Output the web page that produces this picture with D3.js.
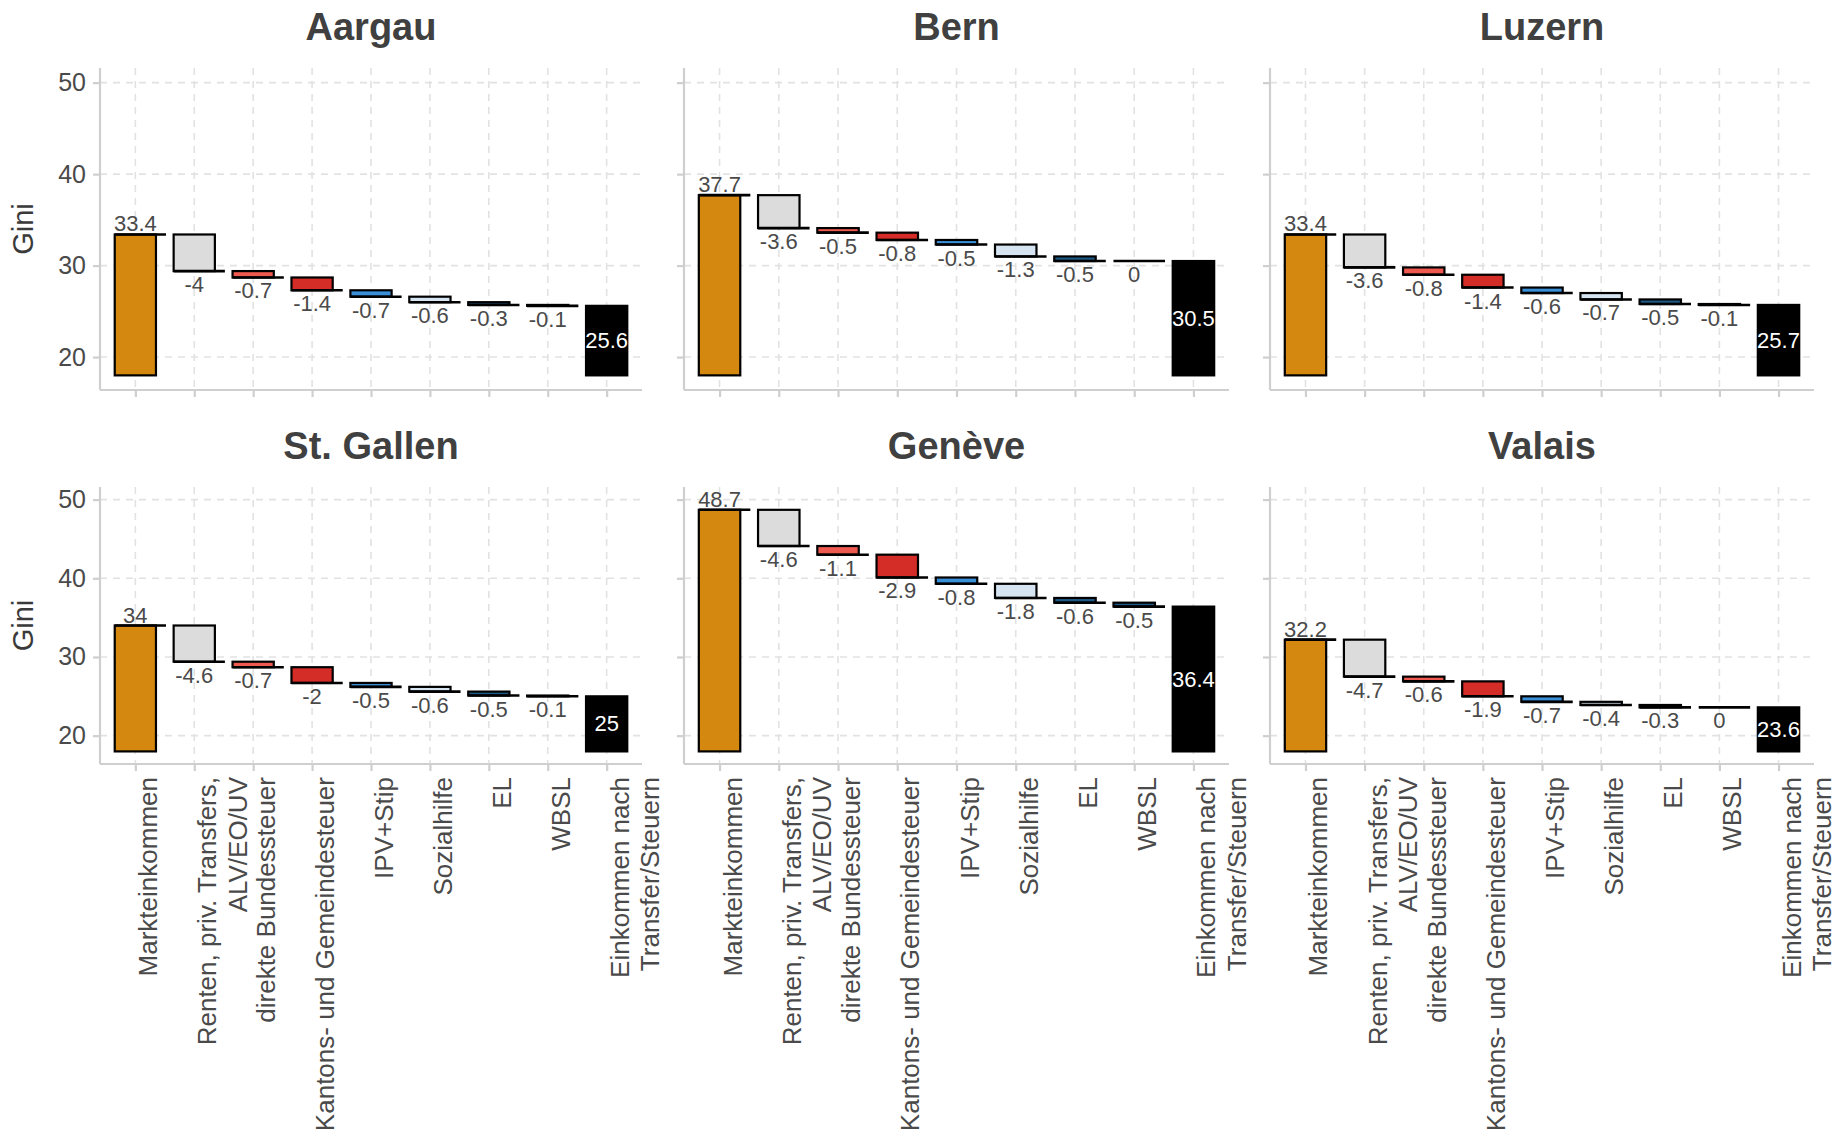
<!DOCTYPE html>
<html>
<head>
<meta charset="utf-8">
<script src="https://cdn.jsdelivr.net/npm/d3@7"></script>
<style>
  html, body { margin: 0; padding: 0; background: #ffffff; }
  svg { display: block; font-family: "Liberation Sans", Arial, sans-serif; }
</style>
</head>
<body>
<svg id="chart" width="1841" height="1136"></svg>
<script>
// ---------------- data ----------------
const categories = [
  "Markteinkommen",
  "Renten, priv. Transfers,\nALV/EO/UV",
  "direkte Bundessteuer",
  "Kantons- und Gemeindesteuer",
  "IPV+Stip",
  "Sozialhilfe",
  "EL",
  "WBSL",
  "Einkommen nach\nTransfer/Steuern"
];
const cantons = ["Aargau", "Bern", "Luzern", "St. Gallen", "Genève", "Valais"];
const valuesAargau    = [33.4, -4.0, -0.7, -1.4, -0.7, -0.6, -0.3, -0.1, 25.6];
const valuesBern      = [37.7, -3.6, -0.5, -0.8, -0.5, -1.3, -0.5,  0.0, 30.5];
const valuesLuzern    = [33.4, -3.6, -0.8, -1.4, -0.6, -0.7, -0.5, -0.1, 25.7];
const valuesStGallen  = [34.0, -4.6, -0.7, -2.0, -0.5, -0.6, -0.5, -0.1, 25.0];
const valuesGeneve    = [48.7, -4.6, -1.1, -2.9, -0.8, -1.8, -0.6, -0.5, 36.4];
const valuesValais    = [32.2, -4.7, -0.6, -1.9, -0.7, -0.4, -0.3,  0.0, 23.6];
const yTicks = [20, 30, 40, 50];
const baseValue = 18;

// ---------------- styles ----------------
const barColors = ["#D4880F", "#DCDCDC", "#EE5A50", "#D42C26", "#3A8FD9",
                   "#D5E4F0", "#1D5A85", "#1D5A85", "#000000"];
const panelCols = [[100, 642], [684, 1229], [1270, 1814]];
const panelRows = [[68, 390], [487, 764]];
const titleBaselines = [40, 459];
const textGrey = "#4A4A4A";

const seriesList = [valuesAargau, valuesBern, valuesLuzern, valuesStGallen, valuesGeneve, valuesValais];

const svg = d3.select("#chart");

cantons.forEach((canton, k) => {
  const col = k % 3, row = Math.floor(k / 3);
  const [x0, x1] = panelCols[col];
  const [y0, y1] = panelRows[row];
  const vals = seriesList[k];

  const x = d3.scalePoint().domain(categories).range([x0, x1]).padding(0.6);
  const step = x.step();
  const y = d3.scaleLinear().domain([16.4, 51.6]).range([y1, y0]);
  const g = svg.append("g");

  // grid lines
  g.append("g").selectAll("line.h").data(yTicks).join("line")
    .attr("x1", x0).attr("x2", x1)
    .attr("y1", d => y(d)).attr("y2", d => y(d))
    .attr("stroke", "#E2E2E2").attr("stroke-width", 1.6)
    .attr("stroke-dasharray", "7,6");
  g.append("g").selectAll("line.v").data(categories).join("line")
    .attr("x1", d => x(d)).attr("x2", d => x(d))
    .attr("y1", y0).attr("y2", y1)
    .attr("stroke", "#E2E2E2").attr("stroke-width", 1.6)
    .attr("stroke-dasharray", "7,6");

  // axes
  const yAxis = d3.axisLeft(y).tickValues(yTicks).tickSize(7).tickSizeOuter(0).tickPadding(7)
    .tickFormat(col === 0 ? d3.format("d") : () => "");
  const ya = g.append("g").attr("transform", `translate(${x0},0)`).call(yAxis);
  const xAxis = d3.axisBottom(x).tickSize(7).tickSizeOuter(0).tickFormat(() => "");
  const xa = g.append("g").attr("transform", `translate(0,${y1})`).call(xAxis);
  [ya, xa].forEach(a => {
    a.select(".domain").attr("stroke", "#CFCFCF").attr("stroke-width", 2.2);
    a.selectAll(".tick line").attr("stroke", "#CFCFCF").attr("stroke-width", 2.2);
    a.selectAll(".tick text").attr("fill", textGrey).attr("font-size", 25)
      .attr("font-family", "'Liberation Sans', Arial, sans-serif");
  });
  ya.select(".domain").attr("d", `M0,${y0}V${y1}`);
  xa.select(".domain").attr("d", `M${x0},0H${x1}`);

  // waterfall data
  const n = vals.length;
  let cum = 0;
  const bars = vals.map((v, i) => {
    let lo, hi, end;
    if (i === 0) { lo = baseValue; hi = v; cum = v; end = v; }
    else if (i === n - 1) { lo = baseValue; hi = v; end = v; }
    else { const prev = cum; cum = cum + v; lo = Math.min(prev, cum); hi = Math.max(prev, cum); end = cum; }
    return { cat: categories[i], v, lo, hi, end, i };
  });

  const bw = step * 0.7;
  g.append("g").selectAll("rect").data(bars).join("rect")
    .attr("x", d => x(d.cat) - bw / 2)
    .attr("width", bw)
    .attr("y", d => y(d.hi))
    .attr("height", d => Math.max(0, y(d.lo) - y(d.hi)))
    .attr("fill", d => barColors[d.i])
    .attr("stroke", "#000").attr("stroke-width", 2.2);

  // connector lines
  g.append("g").selectAll("line").data(bars.slice(0, n - 1)).join("line")
    .attr("x1", d => x(d.cat) - bw / 2)
    .attr("x2", d => x(d.cat) + step * 0.52)
    .attr("y1", d => y(d.end)).attr("y2", d => y(d.end))
    .attr("stroke", "#000").attr("stroke-width", 2.6);

  // value labels
  g.append("g").selectAll("text").data(bars).join("text")
    .attr("x", d => x(d.cat))
    .attr("y", d => d.i === 0 ? y(d.v) - 3 : d.i === n - 1 ? (y(d.lo) + y(d.hi)) / 2 : y(d.end) + 21)
    .attr("dominant-baseline", d => d.i === n - 1 ? "central" : "alphabetic")
    .attr("text-anchor", "middle")
    .attr("font-size", 22)
    .attr("fill", d => d.i === n - 1 ? "#ffffff" : textGrey)
    .text(d => String(d.v));

  // title
  svg.append("text")
    .attr("x", (x0 + x1) / 2).attr("y", titleBaselines[row])
    .attr("text-anchor", "middle").attr("font-size", 38).attr("font-weight", "bold")
    .attr("fill", "#404040").text(canton);

  // y axis title
  if (col === 0) {
    svg.append("text")
      .attr("transform", `translate(23,${(y0 + y1) / 2}) rotate(-90)`)
      .attr("text-anchor", "middle").attr("dominant-baseline", "central")
      .attr("font-size", 29).attr("fill", "#3A3A3A").text("Gini");
  }

  // x labels (bottom row only)
  if (row === 1) {
    categories.forEach(c => {
      c.split("\n").forEach((line, j) => {
        svg.append("text")
          .attr("transform", `translate(${x(c) + 13 + j * 30.6},777) rotate(-90)`)
          .attr("text-anchor", "end").attr("dominant-baseline", "central")
          .attr("font-size", 26).attr("fill", textGrey).text(line);
      });
    });
  }
});
</script>
</body>
</html>
